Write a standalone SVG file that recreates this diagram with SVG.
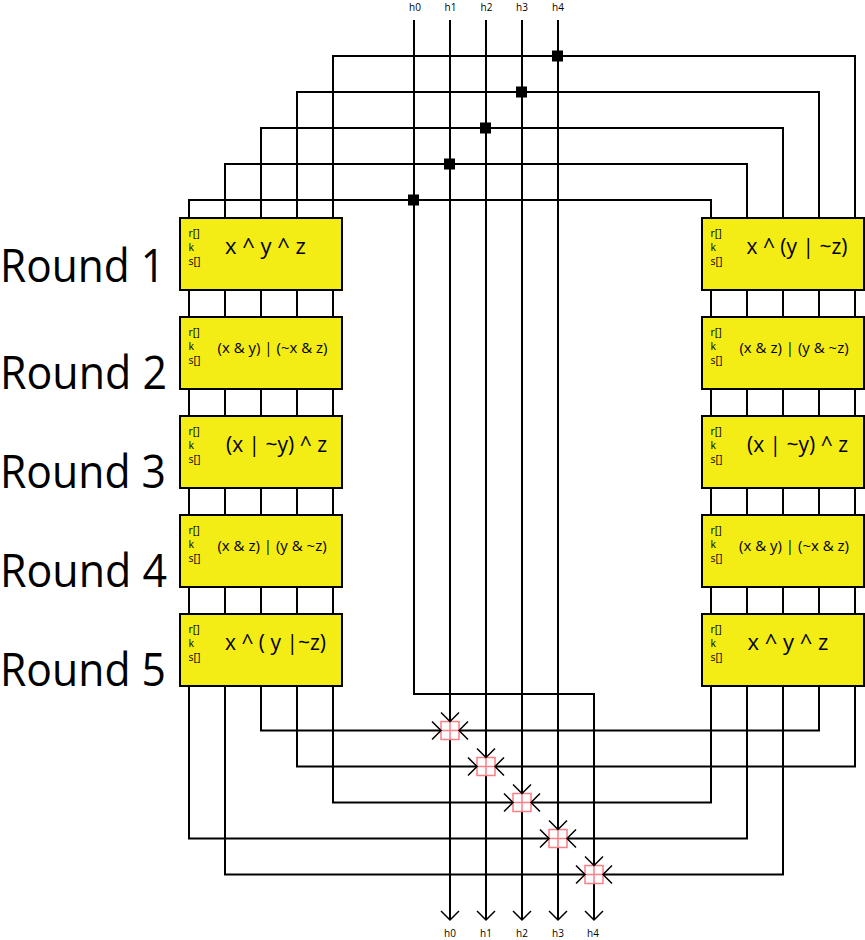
<svg xmlns="http://www.w3.org/2000/svg" xmlns:xlink="http://www.w3.org/1999/xlink" width="865" height="940" viewBox="0 0 865 940">
<style>
text{font-family:"Open Sans","Noto Sans",sans-serif;fill:#000}
.w{fill:none;stroke:#000;stroke-width:2}
.box{fill:#f4ec15;stroke:#000;stroke-width:2}
.small{font-size:10.5px}
.hl{font-size:10px;text-anchor:middle}
.f1{font-size:21px;text-anchor:middle}
.f3{font-size:22px;text-anchor:middle}
.f2{font-size:15px;text-anchor:middle}
.round{font-size:46px}
.pk{fill:none;stroke:#f77f86;stroke-width:1.5}
.ch{fill:none;stroke:#000;stroke-width:1.5}
</style>
<defs>
<g id="inputs"><text class="small" x="8.500" y="19">r[]</text><text class="small" x="8.500" y="33">k</text><text class="small" x="8.500" y="47">s[]</text></g>
<g id="adder">
<rect class="pk" x="-9" y="-9" width="18" height="18" style="fill:#fff"/>
<path class="pk" d="M0-9V9M-9 0H9"/>
<path class="ch" d="M-9-18L0-9L9-18M-18-9L-9 0L-18 9M18-9L9 0L18 9"/>
</g>
</defs>
<g id="connectors">
<path class="w" d="M333 218V56H855V218M297 218V92H819V218M261 218V128H783V218M225 218V164H747V218M189 218V200H711V218"/>
<path class="w" d="M189 290V317M225 290V317M261 290V317M297 290V317M333 290V317M189 389V416M225 389V416M261 389V416M297 389V416M333 389V416M189 488V515M225 488V515M261 488V515M297 488V515M333 488V515M189 587V614M225 587V614M261 587V614M297 587V614M333 587V614"/>
<path class="w" d="M711 290V317M747 290V317M783 290V317M819 290V317M855 290V317M711 389V416M747 389V416M783 389V416M819 389V416M855 389V416M711 488V515M747 488V515M783 488V515M819 488V515M855 488V515M711 587V614M747 587V614M783 587V614M819 587V614M855 587V614"/>
<path class="w" d="M261 686V730.500H819V686M297 686V766.500H855V686M333 686V802.500H711V686M189 686V838.500H747V686M225 686V874.500H783V686"/>
<path class="w" d="M414 20V694H594V920M450 20V920M486 20V920M522 20V920M558 20V920"/>
<path class="ch" d="M441 911L450 920L459 911M477 911L486 920L495 911M513 911L522 920L531 911M549 911L558 920L567 911M585 911L594 920L603 911"/>
<path fill="#000" d="M552 50.500h11v11h-11zM516 86.500h11v11h-11zM480 122.500h11v11h-11zM444 158.500h11v11h-11zM408 194.500h11v11h-11z"/>
</g>
<g id="adders">
<use xlink:href="#adder" href="#adder" x="450" y="730.500"/>
<use xlink:href="#adder" href="#adder" x="486" y="766.500"/>
<use xlink:href="#adder" href="#adder" x="522" y="802.500"/>
<use xlink:href="#adder" href="#adder" x="558" y="838.500"/>
<use xlink:href="#adder" href="#adder" x="594" y="874.500"/>
</g>
<g id="top-labels"><text class="hl" x="415" y="11">h0</text><text class="hl" x="450.500" y="11">h1</text><text class="hl" x="486.500" y="11">h2</text><text class="hl" x="522" y="11">h3</text><text class="hl" x="558" y="11">h4</text></g>
<g id="bottom-labels"><text class="hl" x="450" y="937">h0</text><text class="hl" x="486" y="937">h1</text><text class="hl" x="522" y="937">h2</text><text class="hl" x="558" y="937">h3</text><text class="hl" x="593" y="937">h4</text></g>
<g id="round-labels"><text class="round" x="0" y="282" textLength="165" lengthAdjust="spacingAndGlyphs">Round 1</text><text class="round" x="0" y="389" textLength="167" lengthAdjust="spacingAndGlyphs">Round 2</text><text class="round" x="0" y="488" textLength="166" lengthAdjust="spacingAndGlyphs">Round 3</text><text class="round" x="0" y="587" textLength="167" lengthAdjust="spacingAndGlyphs">Round 4</text><text class="round" x="0" y="686" textLength="166" lengthAdjust="spacingAndGlyphs">Round 5</text></g>
<g id="left-1" transform="translate(180 218)"><rect class="box" width="162" height="72"/><use xlink:href="#inputs" href="#inputs"/><text class="f3" x="85.500" y="36">x ^ y ^ z</text></g>
<g id="left-2" transform="translate(180 317)"><rect class="box" width="162" height="72"/><use xlink:href="#inputs" href="#inputs"/><text class="f2" x="92.500" y="36">(x &amp; y) | (~x &amp; z)</text></g>
<g id="left-3" transform="translate(180 416)"><rect class="box" width="162" height="72"/><use xlink:href="#inputs" href="#inputs"/><text class="f1" x="96.500" y="36">(x | ~y) ^ z</text></g>
<g id="left-4" transform="translate(180 515)"><rect class="box" width="162" height="72"/><use xlink:href="#inputs" href="#inputs"/><text class="f2" x="92" y="36">(x &amp; z) | (y &amp; ~z)</text></g>
<g id="left-5" transform="translate(180 614)"><rect class="box" width="162" height="72"/><use xlink:href="#inputs" href="#inputs"/><text class="f1" x="95.500" y="36">x ^ ( y |~z)</text></g>
<g id="right-1" transform="translate(702 218)"><rect class="box" width="162" height="72"/><use xlink:href="#inputs" href="#inputs"/><text class="f1" x="95" y="36">x ^ (y | ~z)</text></g>
<g id="right-2" transform="translate(702 317)"><rect class="box" width="162" height="72"/><use xlink:href="#inputs" href="#inputs"/><text class="f2" x="92" y="36">(x &amp; z) | (y &amp; ~z)</text></g>
<g id="right-3" transform="translate(702 416)"><rect class="box" width="162" height="72"/><use xlink:href="#inputs" href="#inputs"/><text class="f1" x="95.500" y="36">(x | ~y) ^ z</text></g>
<g id="right-4" transform="translate(702 515)"><rect class="box" width="162" height="72"/><use xlink:href="#inputs" href="#inputs"/><text class="f2" x="92" y="36">(x &amp; y) | (~x &amp; z)</text></g>
<g id="right-5" transform="translate(702 614)"><rect class="box" width="162" height="72"/><use xlink:href="#inputs" href="#inputs"/><text class="f3" x="86" y="36">x ^ y ^ z</text></g>
</svg>
